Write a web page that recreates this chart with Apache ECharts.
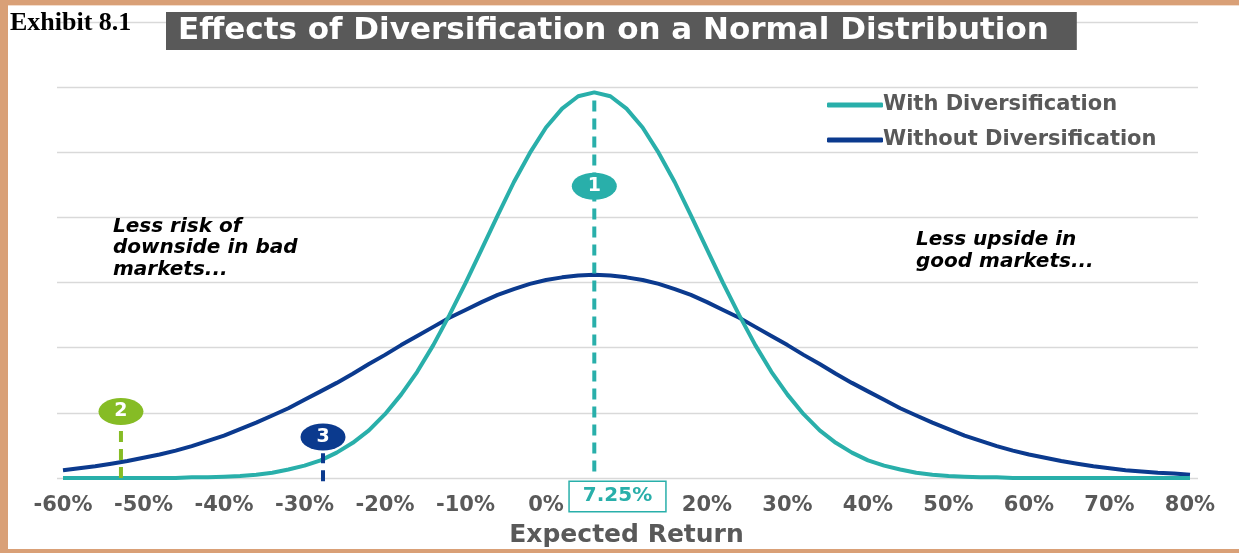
<!DOCTYPE html>
<html>
<head>
<meta charset="utf-8">
<script src="https://cdn.jsdelivr.net/npm/echarts@6/dist/echarts.min.js"></script>
<style>
  html, body { margin: 0; padding: 0; background: #ffffff; }
  #chart { width: 1239px; height: 553px; }
</style>
</head>
<body>
<div id="chart"></div>
<script>
// ---------------- data ----------------
const returns = [-60,-58,-56,-54,-52,-50,-48,-46,-44,-42,-40,-38,-36,-34,-32,-30,-28,-26,-24,-22,-20,-18,-16,-14,-12,-10,-8,-6,-4,-2,0,2,4,6,8,10,12,14,16,18,20,22,24,26,28,30,32,34,36,38,40,42,44,46,48,50,52,54,56,58,60,62,64,66,68,70,72,74,76,78,80];

const withDiversification = [0,0,0,0,0,0,0,0,0.01,0.01,0.02,0.03,0.05,0.08,0.13,0.19,0.27,0.39,0.54,0.73,0.98,1.28,1.63,2.04,2.50,2.99,3.51,4.03,4.54,4.99,5.38,5.67,5.86,5.92,5.86,5.67,5.38,4.99,4.54,4.03,3.51,2.99,2.50,2.04,1.63,1.28,0.98,0.73,0.54,0.39,0.27,0.19,0.13,0.08,0.05,0.03,0.02,0.01,0.01,0,0,0,0,0,0,0,0,0,0,0,0];

const withoutDiversification = [0.12,0.15,0.18,0.22,0.26,0.31,0.36,0.42,0.49,0.57,0.65,0.75,0.85,0.96,1.07,1.20,1.33,1.46,1.60,1.75,1.89,2.04,2.18,2.32,2.46,2.58,2.70,2.81,2.90,2.98,3.04,3.08,3.11,3.12,3.11,3.08,3.04,2.98,2.90,2.81,2.70,2.58,2.46,2.32,2.18,2.04,1.89,1.75,1.60,1.46,1.33,1.20,1.07,0.96,0.85,0.75,0.65,0.57,0.49,0.42,0.36,0.31,0.26,0.22,0.18,0.15,0.12,0.10,0.08,0.07,0.05];

const seriesNames = ['With Diversification', 'Without Diversification'];

// numbered callouts
const markerLabels = ['1', '2', '3'];
const markerX = [6, -52.8, -27.7];
const markerY = [4.48, 1.02, 0.63];
const stemTop = [5.92, 0.80, 0.38];
const stemBottom = [0.10, 0.00, -0.05];

// x tick labels
const xMin = -60, xMax = 80, xStep = 10;
const replacedTick = 10;
const meanReturnLabel = '7.25%';

const titleText = 'Effects of Diversification on a Normal Distribution';
const exhibitText = 'Exhibit 8.1';
const leftNote = 'Less risk of\ndownside in bad\nmarkets...';
const rightNote = 'Less upside in\ngood markets...';
const xAxisTitle = 'Expected Return';

// ---------------- styles ----------------
const TEAL = '#29AFAA';
const NAVY = '#0B3A8E';
const GREEN = '#86BC25';
const GRAY = '#595959';
const BORDER = '#D9A077';
const markerColors = [TEAL, GREEN, NAVY];
const FONT = 'DejaVu Sans';
const ELLIPSE = 'path://M0,50A50,50,0,1,1,100,50A50,50,0,1,1,0,50Z';

const pairs = (ys) => returns.map((x, i) => [x, ys[i]]);

const stemSeries = markerLabels.map((lab, i) => ({
  type: 'line',
  xAxisIndex: 1, yAxisIndex: 1,
  data: [[markerX[i], stemBottom[i]], [markerX[i], stemTop[i]]],
  symbol: 'none',
  silent: true,
  clip: false,
  z: 4,
  lineStyle: { color: markerColors[i], width: 4, type: [11, 7] }
}));

const chart = echarts.init(document.getElementById('chart'), null, { renderer: 'canvas' });

chart.setOption({
  animation: false,
  backgroundColor: '#ffffff',
  title: [
    {
      text: titleText, left: 166, top: 12,
      backgroundColor: GRAY, padding: [2, 28, 2, 12],
      textStyle: { color: '#ffffff', fontFamily: FONT, fontWeight: 'bold', fontSize: 31, lineHeight: 34 }
    },
    {
      text: exhibitText, left: 10, top: 9, padding: 0,
      textStyle: { color: '#000000', fontFamily: 'Liberation Serif', fontWeight: 'bold', fontSize: 26, lineHeight: 28 }
    },
    {
      text: leftNote, left: 113, top: 216, padding: 0,
      textStyle: { color: '#000000', fontFamily: FONT, fontWeight: 'bold', fontStyle: 'italic', fontSize: 20, lineHeight: 21.5 }
    },
    {
      text: rightNote, left: 916, top: 229, padding: 0,
      textStyle: { color: '#000000', fontFamily: FONT, fontWeight: 'bold', fontStyle: 'italic', fontSize: 20, lineHeight: 22 }
    }
  ],
  legend: {
    data: seriesNames,
    orient: 'vertical',
    left: 822, top: 89,
    itemGap: 13,
    itemWidth: 56, itemHeight: 5,
    icon: 'roundRect',
    selectedMode: false,
    textStyle: { color: GRAY, fontFamily: FONT, fontWeight: 'bold', fontSize: 21, lineHeight: 22, padding: [0, 0, 0, -5] }
  },
  graphic: [
    { type: 'rect', left: 0, top: 0, shape: { width: 1239, height: 5 }, style: { fill: BORDER }, silent: true },
    { type: 'rect', left: 0, top: 5, shape: { width: 1239, height: 1 }, style: { fill: '#F3DCCB' }, silent: true },
    { type: 'rect', left: 0, top: 0, shape: { width: 8, height: 553 }, style: { fill: BORDER }, silent: true },
    { type: 'rect', left: 0, top: 549, shape: { width: 1239, height: 4 }, style: { fill: BORDER }, silent: true }
  ],
  grid: [
    { left: 57, right: 41, top: 22, bottom: 75 },
    { left: 63, right: 49, top: 22, bottom: 75 }
  ],
  xAxis: [
    { gridIndex: 0, type: 'value', min: 0, max: 1, show: false },
    {
      gridIndex: 1, type: 'value', min: xMin, max: xMax, interval: xStep,
      axisLine: { show: false }, axisTick: { show: false }, splitLine: { show: false },
      axisLabel: {
        margin: 28,
        verticalAlign: 'middle',
        color: GRAY, fontFamily: FONT, fontWeight: 'bold', fontSize: 21,
        formatter: (v) => v === replacedTick ? '{box|' + meanReturnLabel + '}{sp| }' : v + '%',
        rich: {
          box: {
            color: TEAL, fontFamily: FONT, fontWeight: 'bold', fontSize: 20, lineHeight: 26,
            borderColor: TEAL, borderWidth: 1.5, backgroundColor: '#ffffff',
            padding: [4, 13, 5, 13], verticalAlign: 'top'
          },
          sp: { width: 18, height: 48, fontSize: 10 }
        }
      },
      name: xAxisTitle,
      nameLocation: 'middle',
      nameGap: 45,
      nameTextStyle: { color: GRAY, fontFamily: FONT, fontWeight: 'bold', fontSize: 25 }
    }
  ],
  yAxis: [
    {
      gridIndex: 0, type: 'value', min: 0, max: 7, interval: 1,
      axisLine: { show: false }, axisTick: { show: false }, axisLabel: { show: false },
      splitLine: { show: true, lineStyle: { color: '#D9D9D9', width: 1.3 } }
    },
    {
      gridIndex: 1, type: 'value', min: 0, max: 7, interval: 1, show: false,
      splitLine: { show: false }
    }
  ],
  series: [
    {
      name: seriesNames[0], type: 'line', xAxisIndex: 1, yAxisIndex: 1,
      data: pairs(withDiversification), symbol: 'none', smooth: false, silent: true, z: 3,
      color: TEAL, lineStyle: { color: TEAL, width: 4 }
    },
    {
      name: seriesNames[1], type: 'line', xAxisIndex: 1, yAxisIndex: 1,
      data: pairs(withoutDiversification), symbol: 'none', smooth: false, silent: true, z: 2,
      color: NAVY, lineStyle: { color: NAVY, width: 4 }
    },
    ...stemSeries,
    {
      type: 'scatter', xAxisIndex: 1, yAxisIndex: 1, silent: true, clip: false, z: 6,
      symbol: ELLIPSE, symbolSize: [45, 27],
      itemStyle: { opacity: 1 },
      data: markerLabels.map((lab, i) => ({ value: [markerX[i], markerY[i]], itemStyle: { color: markerColors[i], opacity: 1 } })),
      label: {
        show: true, position: 'inside',
        formatter: (p) => markerLabels[p.dataIndex],
        color: '#ffffff', fontFamily: FONT, fontWeight: 'bold', fontSize: 19
      }
    }
  ]
});
</script>
</body>
</html>
